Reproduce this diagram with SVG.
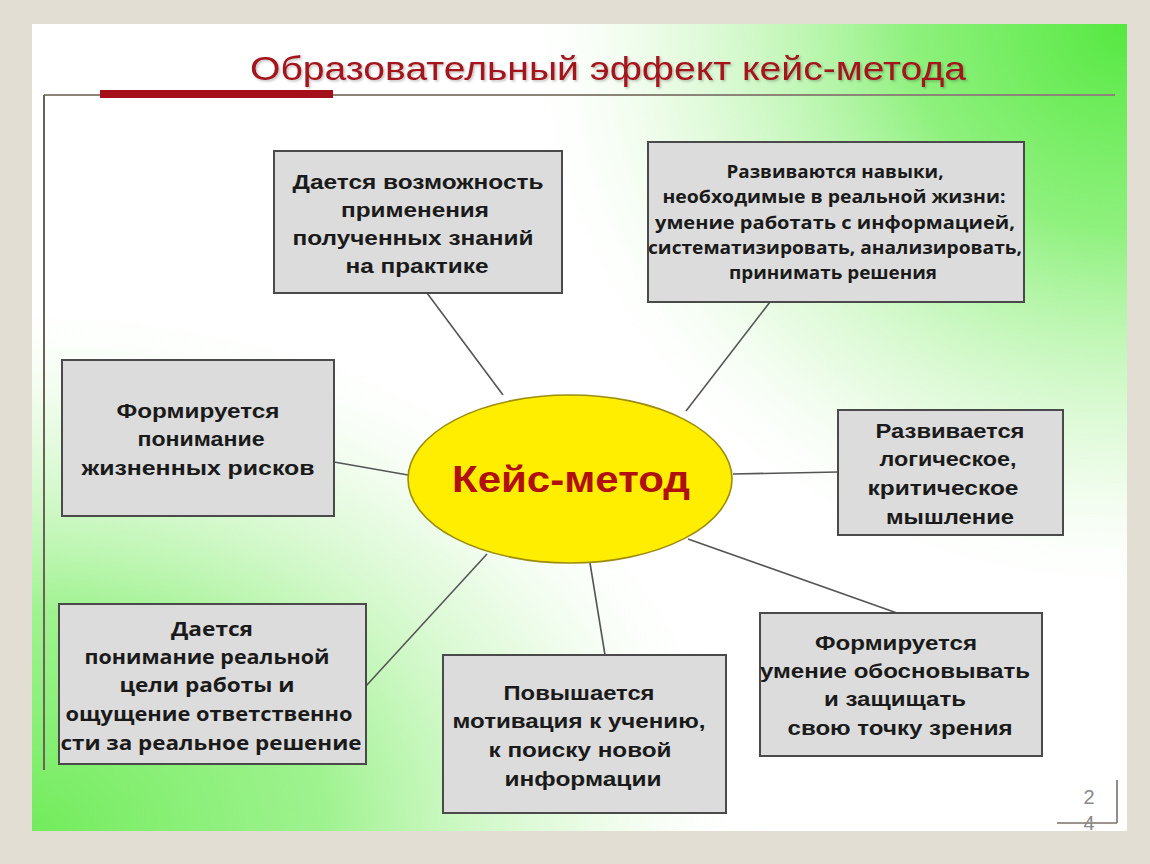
<svg xmlns="http://www.w3.org/2000/svg" width="1150" height="864" viewBox="0 0 1150 864">
  <defs>
    <radialGradient id="gTR" cx="1127" cy="24" r="620" gradientUnits="userSpaceOnUse" gradientTransform="translate(1127 24) scale(1 0.95) translate(-1127 -24)">
      <stop offset="0" stop-color="#55e840"/>
      <stop offset="0.35" stop-color="#7aee66" stop-opacity="0.85"/>
      <stop offset="0.75" stop-color="#c8f6bc" stop-opacity="0.4"/>
      <stop offset="1" stop-color="#ffffff" stop-opacity="0"/>
    </radialGradient>
    <radialGradient id="gBL" cx="32" cy="830" r="640" gradientUnits="userSpaceOnUse" gradientTransform="translate(32 830) scale(1.15 0.85) translate(-32 -830)">
      <stop offset="0" stop-color="#72ec5c"/>
      <stop offset="0.4" stop-color="#8ef07c" stop-opacity="0.85"/>
      <stop offset="0.75" stop-color="#c8f6bc" stop-opacity="0.4"/>
      <stop offset="1" stop-color="#ffffff" stop-opacity="0"/>
    </radialGradient>
    <filter id="sh" x="-5%" y="-20%" width="110%" height="140%">
      <feDropShadow dx="1.5" dy="1.5" stdDeviation="0.8" flood-color="#000" flood-opacity="0.25"/>
    </filter>
  </defs>
  <style>
    .box { fill: #dcdcdc; stroke: #4a4a4a; stroke-width: 2; }
    .t { font-family: "Liberation Sans", Arial, sans-serif; font-weight: bold; font-size: 20px; fill: #1a1a1a; text-anchor: middle; }
    .h { font-family: "Open Sans", "Noto Sans", sans-serif; font-weight: bold; fill: #1a1a1a; text-anchor: middle; }
    .c { stroke: #555; stroke-width: 1.6; fill: none; }
  </style>

  <!-- page background -->
  <rect x="0" y="0" width="1150" height="864" fill="#e3ded4"/>
  <rect x="32" y="24" width="1095" height="807" fill="#ffffff"/>
  <rect x="32" y="24" width="1095" height="807" fill="url(#gTR)"/>
  <rect x="32" y="24" width="1095" height="807" fill="url(#gBL)"/>

  <!-- title -->
  <g id="title">
    <text x="608" y="80" font-family="'Liberation Sans', Arial, sans-serif" font-size="34" fill="#a3121a" text-anchor="middle" textLength="716" lengthAdjust="spacingAndGlyphs" filter="url(#sh)">Образовательный  эффект кейс-метода</text>
    <line x1="44" y1="95" x2="1115" y2="95" stroke="#8d8478" stroke-width="2"/>
    <line x1="44" y1="95" x2="44" y2="770" stroke="#6b6258" stroke-width="2"/>
    <rect x="100" y="90" width="233" height="8" fill="#a50f1a"/>
  </g>

  <!-- connectors -->
  <g id="connectors">
    <line class="c" x1="427" y1="293" x2="503" y2="395"/>
    <line class="c" x1="770" y1="302" x2="686" y2="411"/>
    <line class="c" x1="334" y1="462" x2="408" y2="475"/>
    <line class="c" x1="733" y1="474" x2="838" y2="472"/>
    <line class="c" x1="366" y1="686" x2="487" y2="554"/>
    <line class="c" x1="605" y1="655" x2="590" y2="563"/>
    <line class="c" x1="897" y1="613" x2="688" y2="539"/>
  </g>

  <!-- center -->
  <g id="center">
    <ellipse cx="570" cy="479" rx="162" ry="84" fill="#ffee00" stroke="#9c8c10" stroke-width="1.6"/>
    <text x="571" y="492" font-family="'Liberation Sans', Arial, sans-serif" font-weight="bold" font-size="37" fill="#b0100e" text-anchor="middle" textLength="238" lengthAdjust="spacingAndGlyphs">Кейс-метод</text>
  </g>

  <g id="box1">
    <rect class="box" x="274" y="151" width="288" height="142"/>
    <text class="t" x="418" y="189" textLength="251" lengthAdjust="spacingAndGlyphs">Дается возможность</text>
    <text class="t" x="415" y="217" textLength="148" lengthAdjust="spacingAndGlyphs">применения</text>
    <text class="t" x="413" y="245" textLength="241" lengthAdjust="spacingAndGlyphs">полученных знаний</text>
    <text class="t" x="417" y="273" textLength="143" lengthAdjust="spacingAndGlyphs">на практике</text>
  </g>

  <g id="box2">
    <rect class="box" x="648" y="142" width="376" height="160"/>
    <text class="h" x="835" y="178" font-size="17" textLength="217" lengthAdjust="spacingAndGlyphs">Развиваются навыки,</text>
    <text class="h" x="834" y="203" font-size="17" textLength="343" lengthAdjust="spacingAndGlyphs">необходимые в реальной жизни:</text>
    <text class="h" x="835" y="229" font-size="17" textLength="360" lengthAdjust="spacingAndGlyphs">умение работать  с информацией,</text>
    <text class="h" x="835" y="254" font-size="17" textLength="374" lengthAdjust="spacingAndGlyphs">систематизировать, анализировать,</text>
    <text class="h" x="833" y="279" font-size="17" textLength="208" lengthAdjust="spacingAndGlyphs">принимать решения</text>
  </g>

  <g id="box3">
    <rect class="box" x="62" y="360" width="272" height="156"/>
    <text class="t" x="198" y="418" textLength="163" lengthAdjust="spacingAndGlyphs">Формируется</text>
    <text class="t" x="201" y="446" textLength="127" lengthAdjust="spacingAndGlyphs">понимание</text>
    <text class="t" x="198" y="475" textLength="233" lengthAdjust="spacingAndGlyphs">жизненных  рисков</text>
  </g>

  <g id="box4">
    <rect class="box" x="838" y="410" width="225" height="125"/>
    <text class="t" x="950" y="438" textLength="149" lengthAdjust="spacingAndGlyphs">Развивается</text>
    <text class="t" x="948" y="466" textLength="137" lengthAdjust="spacingAndGlyphs">логическое,</text>
    <text class="t" x="943" y="495" textLength="151" lengthAdjust="spacingAndGlyphs">критическое</text>
    <text class="t" x="950" y="524" textLength="128" lengthAdjust="spacingAndGlyphs">мышление</text>
  </g>

  <g id="box5">
    <rect class="box" x="59" y="604" width="307" height="160"/>
    <text class="h" x="212" y="636" font-size="20" textLength="82" lengthAdjust="spacingAndGlyphs">Дается</text>
    <text class="h" x="207" y="664" font-size="20" textLength="245" lengthAdjust="spacingAndGlyphs">понимание реальной</text>
    <text class="h" x="207" y="692" font-size="20" textLength="175" lengthAdjust="spacingAndGlyphs">цели работы  и</text>
    <text class="h" x="209" y="721" font-size="20" textLength="287" lengthAdjust="spacingAndGlyphs">ощущение ответственно</text>
    <text class="h" x="211" y="750" font-size="20" textLength="301" lengthAdjust="spacingAndGlyphs">сти за реальное  решение</text>
  </g>

  <g id="box6">
    <rect class="box" x="443" y="655" width="283" height="158"/>
    <text class="t" x="579" y="700" textLength="151" lengthAdjust="spacingAndGlyphs">Повышается</text>
    <text class="t" x="579" y="728" textLength="253" lengthAdjust="spacingAndGlyphs">мотивация к учению,</text>
    <text class="t" x="580" y="757" textLength="183" lengthAdjust="spacingAndGlyphs">к поиску новой</text>
    <text class="t" x="583" y="786" textLength="157" lengthAdjust="spacingAndGlyphs">информации</text>
  </g>

  <g id="box7">
    <rect class="box" x="760" y="613" width="282" height="143"/>
    <text class="t" x="896" y="650" textLength="162" lengthAdjust="spacingAndGlyphs">Формируется</text>
    <text class="t" x="895" y="678" textLength="270" lengthAdjust="spacingAndGlyphs">умение обосновывать</text>
    <text class="t" x="895" y="706" textLength="142" lengthAdjust="spacingAndGlyphs">и защищать</text>
    <text class="t" x="900" y="735" textLength="225" lengthAdjust="spacingAndGlyphs">свою точку зрения</text>
  </g>

  <!-- page number -->
  <g id="pagenum">
    <line x1="1057" y1="823" x2="1117" y2="823" stroke="#7a7068" stroke-width="1.6"/>
    <line x1="1117" y1="780" x2="1117" y2="823" stroke="#7a7068" stroke-width="1.6"/>
    <text x="1089" y="804" font-family="'Liberation Sans', Arial, sans-serif" font-size="20" fill="#8a8a8a" text-anchor="middle">2</text>
    <text x="1089" y="830" font-family="'Liberation Sans', Arial, sans-serif" font-size="20" fill="#8a8a8a" text-anchor="middle">4</text>
  </g>
</svg>
